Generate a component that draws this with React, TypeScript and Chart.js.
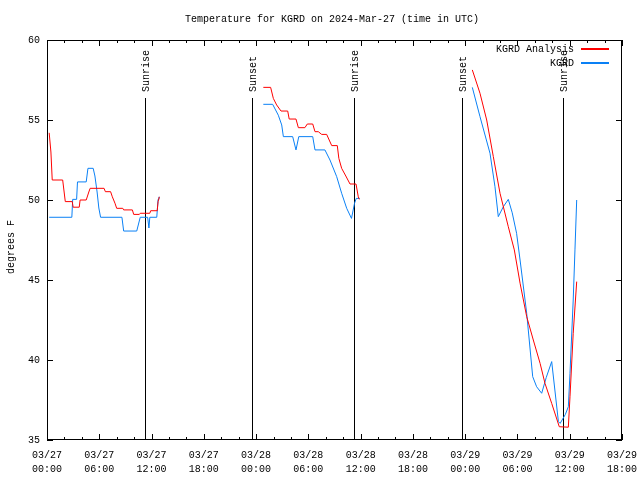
import React, { useEffect, useRef } from "react";
import { Chart, registerables } from "chart.js";

Chart.register(...registerables);

const TITLE = "Temperature for KGRD on 2024-Mar-27 (time in UTC)";
const Y_LABEL = "degrees F";
const START_DAY = 27;

// hours since 2024-03-27 00:00 UTC; null temp = gap
const analysisHours = [
  0.25, 0.45, 0.6, 1.8, 2.1, 2.9, 3.0, 3.7, 3.8, 4.5, 4.8, 4.95, 6.55, 6.7, 7.3, 7.5, 7.8, 8.0, 8.7, 8.8, 9.8, 9.95, 10.6, 10.7, 11.8, 11.9, 12.65, 12.75, 12.9,
  18,
  24.83, 25.67, 25.98, 26.36, 26.86, 27.63, 27.8, 28.58, 28.85, 29.6, 29.88, 30.5, 30.76, 31.14, 31.53, 32.1, 32.68, 33.32, 33.5, 33.82, 34.3, 34.78, 35.47, 35.73, 35.85,
  42,
  48.82, 49.7, 50.47, 51.23, 52.0, 52.95, 53.64, 54.3, 55.06, 55.82, 56.6, 57.16, 57.93, 58.8, 59.84, 60.03, 60.4, 60.8,
];
const analysisTemps = [
  54.2, 53.0, 51.25, 51.25, 49.9, 49.9, 49.55, 49.55, 50.0, 50.0, 50.5, 50.73, 50.73, 50.52, 50.52, 50.2, 49.8, 49.48, 49.48, 49.38, 49.38, 49.1, 49.1, 49.17, 49.17, 49.33, 49.33, 49.9, 50.2,
  null,
  57.04, 57.04, 56.35, 55.94, 55.56, 55.56, 55.06, 55.06, 54.52, 54.52, 54.75, 54.75, 54.27, 54.27, 54.1, 54.1, 53.4, 53.4, 52.6, 51.98, 51.5, 51.0, 51.0, 50.2, 50.04,
  null,
  58.13, 56.67, 55.0, 52.71, 50.42, 48.33, 46.88, 44.8, 42.71, 41.25, 39.79, 38.54, 37.29, 35.83, 35.8, 37.7, 41.67, 44.9,
];

const obsHours = [
  0.25, 2.85, 2.95, 3.4, 3.5, 4.5, 4.7, 5.3, 5.5, 5.75, 5.95, 6.15, 8.6, 8.8, 10.3, 10.7, 11.55, 11.7, 11.8, 12.6, 12.75, 12.85,
  18,
  24.83, 25.9, 26.55, 26.94, 27.13, 28.2, 28.58, 28.9, 30.5, 30.76, 31.9, 32.48, 33.25, 33.82, 34.4, 34.95, 35.3, 35.5, 35.9,
  42,
  48.82, 49.7, 50.85, 51.42, 51.8, 52.38, 52.95, 53.4, 53.9, 54.3, 55.06, 55.75, 56.2, 56.78, 57.3, 57.93, 58.7, 58.9, 59.5, 59.84, 60.03, 60.4, 60.6, 60.8,
];
const obsTemps = [
  48.92, 48.92, 50.04, 50.04, 51.13, 51.13, 51.98, 51.98, 51.5, 50.5, 49.5, 48.92, 48.92, 48.06, 48.06, 48.92, 48.92, 48.25, 48.92, 48.92, 50.04, 50.2,
  null,
  55.98, 55.98, 55.3, 54.69, 53.96, 53.96, 53.13, 53.96, 53.96, 53.13, 53.13, 52.5, 51.46, 50.42, 49.48, 48.85, 49.8, 50.1, 50.1,
  null,
  57.04, 55.21, 52.92, 50.83, 48.96, 49.58, 50.04, 49.2, 47.92, 46.25, 42.92, 38.96, 38.33, 37.92, 38.9, 39.9, 36.15, 36.04, 36.6, 37.08, 39.17, 43.75, 46.88, 50.0,
];

const eventLabels = ["Sunrise", "Sunset", "Sunrise", "Sunset", "Sunrise"];
const eventHours = [11.25, 23.5, 35.2, 47.6, 59.2];

const X_MIN = 0;
const X_MAX = 66;
const X_STEP = 6;
const X_MINOR = 2;
const Y_MIN = 35;
const Y_MAX = 60;
const Y_STEP = 5;

const seriesNames = ["KGRD Analysis", "KGRD"];
const seriesColors = ["#ff0000", "#0a80f5"];

const FONT = "'Liberation Mono', 'DejaVu Sans Mono', monospace";

const pad2 = (n: number) => (n < 10 ? "0" + n : "" + n);

function toPoints(hours: number[], temps: (number | null)[]) {
  return hours.map((h, i) => ({ x: h, y: temps[i] }));
}

const decorPlugin = {
  id: "decor",
  beforeDatasetsDraw(chart: any) {
    const { ctx, chartArea, scales } = chart;
    const xs = scales.x;
    ctx.save();
    ctx.strokeStyle = "#000";
    ctx.lineWidth = 1;
    ctx.fillStyle = "#000";
    ctx.font = `10px ${FONT}`;
    eventHours.forEach((h, i) => {
      const px = Math.round(xs.getPixelForValue(h)) + 0.5;
      ctx.beginPath();
      ctx.moveTo(px, chartArea.top + 58);
      ctx.lineTo(px, chartArea.bottom);
      ctx.stroke();
      ctx.save();
      ctx.translate(px + 1, chartArea.top + 52);
      ctx.rotate(-Math.PI / 2);
      ctx.textAlign = "left";
      ctx.textBaseline = "middle";
      ctx.fillText(eventLabels[i], 0, 0);
      ctx.restore();
    });
    ctx.restore();
  },
  afterDraw(chart: any) {
    const { ctx, chartArea, scales } = chart;
    const xs = scales.x;
    const ys = scales.y;
    const { left, right, top, bottom } = chartArea;
    ctx.save();
    ctx.strokeStyle = "#000";
    ctx.lineWidth = 1;
    // frame
    ctx.strokeRect(left + 0.5, top + 0.5, right - left - 1, bottom - top - 1);
    // ticks (inward, mirrored)
    ctx.beginPath();
    for (let h = X_MIN; h <= X_MAX; h += X_MINOR) {
      const px = Math.round(xs.getPixelForValue(h)) + 0.5;
      const len = h % X_STEP === 0 ? 6 : 3;
      ctx.moveTo(px, bottom);
      ctx.lineTo(px, bottom - len);
      ctx.moveTo(px, top);
      ctx.lineTo(px, top + len);
    }
    for (let v = Y_MIN; v <= Y_MAX; v += Y_STEP) {
      const py = Math.round(ys.getPixelForValue(v)) + 0.5;
      ctx.moveTo(left, py);
      ctx.lineTo(left + 6, py);
      ctx.moveTo(right, py);
      ctx.lineTo(right - 6, py);
    }
    ctx.stroke();

    // title
    ctx.fillStyle = "#000";
    ctx.font = `10px ${FONT}`;
    ctx.textAlign = "center";
    ctx.textBaseline = "middle";
    ctx.fillText(TITLE, 332, 19);

    // y label
    ctx.save();
    ctx.translate(11, 247);
    ctx.rotate(-Math.PI / 2);
    ctx.textAlign = "center";
    ctx.textBaseline = "middle";
    ctx.fillText(Y_LABEL, 0, 0);
    ctx.restore();

    // legend
    chart.data.datasets.forEach((ds: any, i: number) => {
      const y = top + 9 + i * 14;
      ctx.textAlign = "right";
      ctx.textBaseline = "middle";
      ctx.fillStyle = "#000";
      ctx.fillText(ds.label, right - 48, y);
      ctx.fillStyle = seriesColors[i];
      ctx.fillRect(right - 41, Math.round(y) - 1, 28, 2);
    });
    ctx.restore();
  },
};

export default function App() {
  const ref = useRef<HTMLCanvasElement | null>(null);

  useEffect(() => {
    if (!ref.current) return;
    const chart = new Chart(ref.current, {
      type: "line",
      data: {
        datasets: [
          {
            label: seriesNames[0],
            data: toPoints(analysisHours, analysisTemps) as any,
            borderColor: seriesColors[0],
            backgroundColor: seriesColors[0],
            borderWidth: 1,
            pointRadius: 0,
            tension: 0,
            spanGaps: false,
          },
          {
            label: seriesNames[1],
            data: toPoints(obsHours, obsTemps) as any,
            borderColor: seriesColors[1],
            backgroundColor: seriesColors[1],
            borderWidth: 1,
            pointRadius: 0,
            tension: 0,
            spanGaps: false,
          },
        ],
      },
      options: {
        animation: false,
        responsive: false,
        devicePixelRatio: 1,
        layout: { padding: { top: 40, right: 18, left: 0, bottom: 0 } },
        plugins: {
          legend: { display: false },
          tooltip: { enabled: false },
          title: { display: false },
        },
        scales: {
          x: {
            type: "linear",
            min: X_MIN,
            max: X_MAX,
            grid: { display: false, drawTicks: false },
            border: { display: false },
            ticks: {
              stepSize: X_STEP,
              autoSkip: false,
              maxRotation: 0,
              padding: 8,
              color: "#000",
              font: { family: FONT, size: 10, lineHeight: 1.4 },
              callback: (v: any) => {
                const h = Number(v);
                const day = START_DAY + Math.floor(h / 24);
                const hh = h % 24;
                return ["03/" + pad2(day), pad2(hh) + ":00"];
              },
            },
            afterFit: (scale: any) => {
              scale.height = 40;
              scale.paddingLeft = 0;
              scale.paddingRight = 0;
            },
          },
          y: {
            type: "linear",
            min: Y_MIN,
            max: Y_MAX,
            grid: { display: false, drawTicks: false },
            border: { display: false },
            ticks: {
              stepSize: Y_STEP,
              padding: 7,
              color: "#000",
              font: { family: FONT, size: 10 },
            },
            afterFit: (scale: any) => {
              scale.width = 47;
              scale.paddingTop = 0;
              scale.paddingBottom = 0;
            },
          },
        },
      },
      plugins: [decorPlugin],
    });
    return () => chart.destroy();
  }, []);

  return (
    <div style={{ position: "fixed", left: 0, top: 0, width: 640, height: 480, background: "#fff" }}>
      <canvas ref={ref} width={640} height={480} style={{ display: "block" }} />
    </div>
  );
}
